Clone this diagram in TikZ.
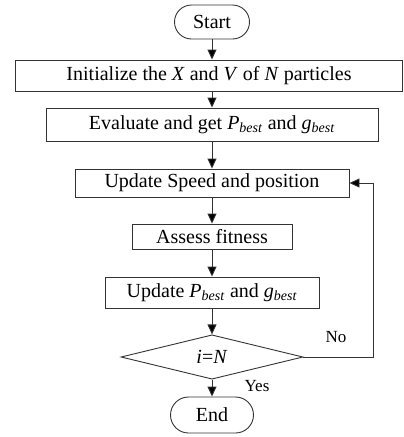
\documentclass[tikz,border=0pt]{standalone}
\usepackage{fontspec}
\setmainfont{Liberation Serif}
\usetikzlibrary{arrows.meta,shapes.geometric,shapes.misc}
\newcommand{\best}[1]{\textit{#1}\textsubscript{\textit{best}}}
\begin{document}
\begin{tikzpicture}[x=1pt,y=-1pt,
  every node/.style={font=\fontsize{20}{24}\selectfont, inner sep=0pt},
  box/.style={draw=black!80, line width=0.9pt, rectangle},
  term/.style={draw=black!80, line width=0.9pt, rounded rectangle},
  decide/.style={draw=black!80, line width=0.9pt, diamond},
  arr/.style={draw=black!80, line width=0.9pt, -{Triangle[length=10pt,width=9pt,fill=black]}},
  lbl/.style={font=\fontsize{17}{20}\selectfont}]
\useasboundingbox (0,0) rectangle (404,437);
\node[term, minimum width=75pt, minimum height=34pt] (start) at (212,22) {Start};
\node[box, minimum width=387pt, minimum height=31pt] (init) at (209,75.5)
  {Initialize the \textit{X} and \textit{V} of \textit{N} particles};
\node[box, minimum width=332pt, minimum height=33pt] (eval) at (212,124.5)
  {Evaluate and get \best{P} and \best{g}};
\node[box, minimum width=274pt, minimum height=28pt] (upd) at (212,183)
  {Update Speed and position};
\node[box, minimum width=160pt, minimum height=25pt] (assess) at (212,236.5)
  {Assess fitness};
\node[box, minimum width=214pt, minimum height=31pt] (updp) at (212,292.5)
  {Update \best{P} and \best{g}};
\node[decide, minimum width=182pt, minimum height=40pt] (dec) at (212,357)
  {\textit{i}=\textit{N}};
\node[term, minimum width=83pt, minimum height=36pt] (end) at (212,415) {End};
\coordinate (rt) at (373,357);
\node[lbl] (no) at (336,337) {No};
\node[lbl] (yes) at (257,386) {Yes};

\draw[arr] (start.south) -- (start.south |- init.north);
\draw[arr] (eval.north |- init.south) -- (eval.north);
\draw[arr] (eval.south) -- (upd.north);
\draw[arr] (upd.south) -- (assess.north);
\draw[arr] (assess.south) -- (updp.north);
\draw[arr] (updp.south) -- (dec.north);
\draw[arr] (dec.south) -- (end.north);
\draw[arr] (dec.east) -- (rt) |- (upd.east);
\end{tikzpicture}
\end{document}
